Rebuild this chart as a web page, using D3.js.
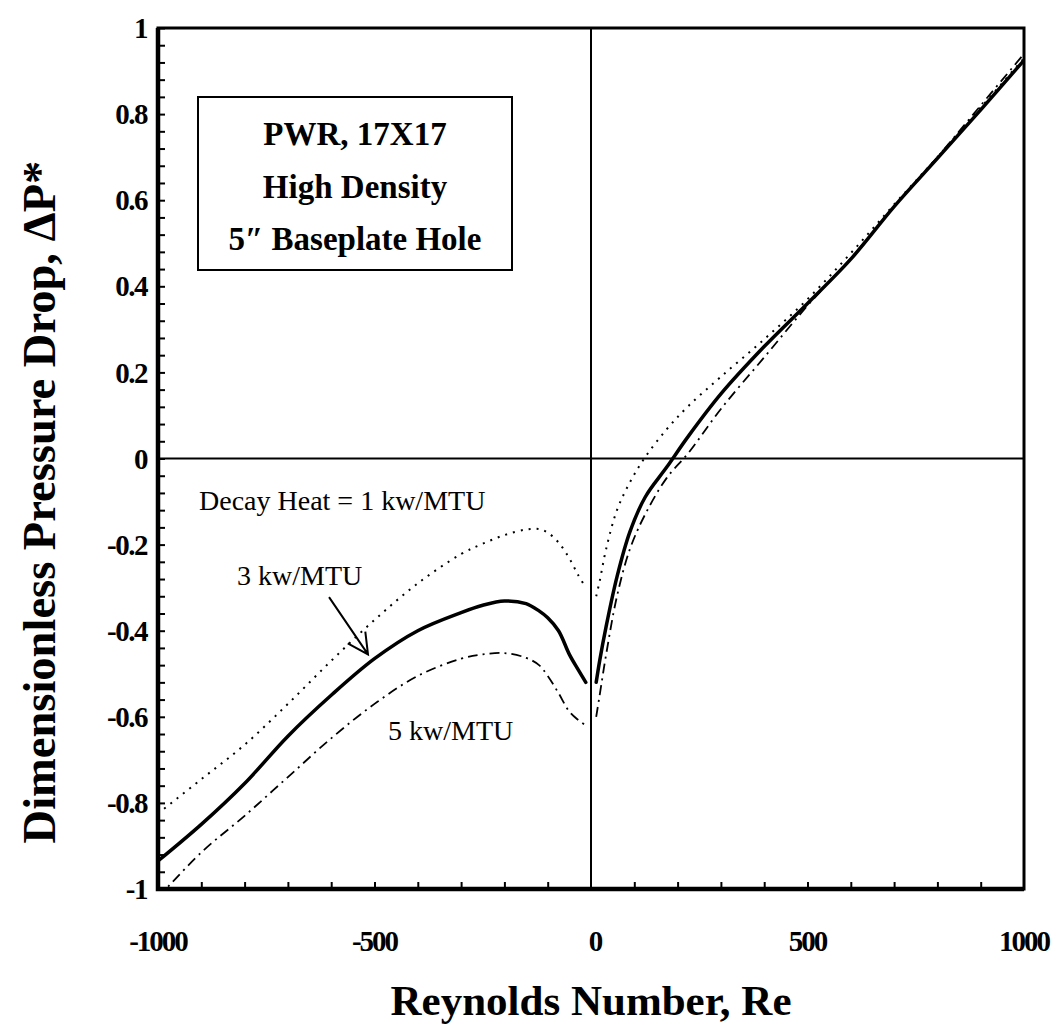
<!DOCTYPE html>
<html>
<head>
<meta charset="utf-8">
<script src="https://cdn.jsdelivr.net/npm/d3@7"></script>
<style>
  body { margin: 0; background: #fff; }
  svg { display: block; }
  text { font-family: "Liberation Serif", "Times New Roman", serif; fill: #000; }
</style>
</head>
<body>
<div class="content"></div>
<script>

// Reynolds number grid, negative branch (reverse flow) and positive branch
var reNeg = [-1000, -900, -800, -700, -600, -500, -400, -300, -250, -200, -150, -120, -100, -75, -50, -30, -12];
var rePos = [12, 20, 35, 60, 90, 125, 175, 225, 300, 400, 500, 600, 700, 800, 900, 1000];

// Decay heat = 1 kw/MTU (dotted)
var dp1Neg = [-0.825, -0.745, -0.665, -0.57, -0.47, -0.375, -0.29, -0.222, -0.198, -0.178, -0.165, -0.164, -0.172, -0.195, -0.232, -0.27, -0.30];
var dp1Pos = [-0.32, -0.285, -0.21, -0.12, -0.055, 0.003, 0.068, 0.122, 0.19, 0.277, 0.37, 0.477, 0.59, 0.70, 0.815, 0.93];

// Decay heat = 3 kw/MTU (solid)
var dp3Neg = [-0.935, -0.85, -0.755, -0.645, -0.55, -0.465, -0.40, -0.358, -0.341, -0.331, -0.337, -0.354, -0.37, -0.40, -0.455, -0.49, -0.52];
var dp3Pos = [-0.52, -0.47, -0.39, -0.275, -0.17, -0.09, -0.02, 0.052, 0.15, 0.26, 0.36, 0.463, 0.585, 0.697, 0.81, 0.925];

// Decay heat = 5 kw/MTU (dash-dot)
var dp5Neg = [-1.02, -0.915, -0.83, -0.74, -0.65, -0.57, -0.505, -0.465, -0.455, -0.452, -0.463, -0.48, -0.505, -0.545, -0.588, -0.607, -0.62];
var dp5Pos = [-0.60, -0.55, -0.455, -0.32, -0.21, -0.13, -0.045, 0.013, 0.115, 0.235, 0.355, 0.465, 0.585, 0.70, 0.82, 0.94];

var xTicks = [-1000, -500, 0, 500, 1000];
var yTicks = [1, 0.8, 0.6, 0.4, 0.2, 0, -0.2, -0.4, -0.6, -0.8, -1];
var boxLines = ["PWR, 17X17", "High Density", "5\u2033 Baseplate Hole"];

var width = 1056, height = 1034;
var margin = {top: 28, right: 32, bottom: 145, left: 158};

var svg = d3.select(".content").append("svg")
   .attr("width", width)
   .attr("height", height);

var x = d3.scaleLinear().domain([-1000, 1000]).range([margin.left, width - margin.right]);
var y = d3.scaleLinear().domain([-1, 1]).range([height - margin.bottom, margin.top]);

svg.append("clipPath").attr("id", "plot-clip")
   .append("rect")
   .attr("x", x(-1000)).attr("y", y(1))
   .attr("width", x(1000) - x(-1000)).attr("height", y(-1) - y(1));

// zero lines
svg.append("line")
   .attr("x1", x(-1000)).attr("x2", x(1000))
   .attr("y1", y(0)).attr("y2", y(0))
   .attr("stroke", "#000").attr("stroke-width", 2);
svg.append("line")
   .attr("x1", x(0)).attr("x2", x(0))
   .attr("y1", y(1)).attr("y2", y(-1))
   .attr("stroke", "#000").attr("stroke-width", 2);

// minor ticks, inward
var yAxis = d3.axisRight(y)
   .tickValues(d3.range(-1, 1.0001, 0.04))
   .tickSize(7).tickFormat("");
svg.append("g")
   .attr("transform", "translate(" + x(-1000) + ",0)")
   .call(yAxis)
   .call(g => g.select(".domain").remove())
   .selectAll("line").attr("stroke-width", 2);

var xAxis = d3.axisTop(x)
   .tickValues(d3.range(-900, 1000, 100).filter(v => v !== 0))
   .tickSize(7).tickFormat("");
svg.append("g")
   .attr("transform", "translate(0," + y(-1) + ")")
   .call(xAxis)
   .call(g => g.select(".domain").remove())
   .selectAll("line").attr("stroke-width", 2);

// frame
svg.append("rect")
   .attr("x", x(-1000)).attr("y", y(1))
   .attr("width", x(1000) - x(-1000)).attr("height", y(-1) - y(1))
   .attr("fill", "none").attr("stroke", "#000").attr("stroke-width", 3);
svg.append("path")
   .attr("d", "M" + x(-1000) + "," + y(1) + "V" + y(-1) + "H" + x(1000))
   .attr("fill", "none").attr("stroke", "#000").attr("stroke-width", 4.5);

// tick labels
svg.selectAll(".ylab")
   .data(yTicks)
   .enter().append("text")
   .attr("class", "ylab")
   .attr("x", x(-1000) - 11)
   .attr("y", d => y(d))
   .attr("dy", "0.35em")
   .attr("text-anchor", "end")
   .attr("font-size", 29)
   .attr("font-weight", "bold")
   .attr("letter-spacing", -1.5)
   .text(d => String(d));

svg.selectAll(".xlab")
   .data(xTicks)
   .enter().append("text")
   .attr("class", "xlab")
   .attr("x", d => x(d) + (d === 0 ? 4 : 0))
   .attr("y", y(-1) + 62)
   .attr("text-anchor", "middle")
   .attr("font-size", 29)
   .attr("font-weight", "bold")
   .attr("letter-spacing", -2)
   .text(d => String(d));

// axis titles
svg.append("text")
   .attr("x", x(0))
   .attr("y", 1015)
   .attr("text-anchor", "middle")
   .attr("font-size", 43)
   .attr("font-weight", "bold")
   .text("Reynolds Number, Re");

svg.append("text")
   .attr("transform", "translate(55,502) rotate(-90)")
   .attr("text-anchor", "middle")
   .attr("font-size", 46.5)
   .attr("font-weight", "bold")
   .text("Dimensionless Pressure Drop, \u0394P*");

// curves
var line = d3.line()
   .x(d => x(d[0]))
   .y(d => y(d[1]))
   .curve(d3.curveCatmullRom.alpha(0.5));

var series = [
   {neg: dp1Neg, pos: dp1Pos, width: 2, dash: "2,6"},
   {neg: dp5Neg, pos: dp5Pos, width: 1.8, dash: "10,5,2,5"},
   {neg: dp3Neg, pos: dp3Pos, width: 3.5, dash: null}
];

var curves = svg.append("g").attr("clip-path", "url(#plot-clip)");
series.forEach(s => {
   [[reNeg, s.neg], [rePos, s.pos]].forEach(branch => {
      curves.append("path")
         .attr("d", line(d3.zip(branch[0], branch[1])))
         .attr("fill", "none")
         .attr("stroke", "#000")
         .attr("stroke-width", s.width)
         .attr("stroke-dasharray", s.dash)
         .attr("stroke-linecap", s.dash ? "butt" : "round");
   });
});

// info box
var box = svg.append("g");
box.append("rect")
   .attr("x", 198).attr("y", 97)
   .attr("width", 314).attr("height", 173)
   .attr("fill", "#fff").attr("stroke", "#000").attr("stroke-width", 2);
box.selectAll("text")
   .data(boxLines)
   .enter().append("text")
   .attr("x", 198 + 157)
   .attr("y", (d, i) => 145 + i * 52.5)
   .attr("text-anchor", "middle")
   .attr("font-size", 33)
   .attr("font-weight", "bold")
   .text(d => d);

// annotations
svg.append("text")
   .attr("x", x(-1000) + 41).attr("y", y(-0.12))
   .attr("font-size", 28)
   .text("Decay Heat = 1 kw/MTU");
svg.append("text")
   .attr("x", x(-1000) + 79).attr("y", y(-0.295))
   .attr("font-size", 28)
   .text("3 kw/MTU");
svg.append("text")
   .attr("x", x(-1000) + 230).attr("y", y(-0.655))
   .attr("font-size", 28)
   .text("5 kw/MTU");

// arrow toward the 3 kw/MTU curve
var tail = [x(-605), y(-0.322)], tip = [x(-515), y(-0.455)];
var ang = Math.atan2(tail[1] - tip[1], tail[0] - tip[0]);
var headLen = 23, spread = 0.48;
svg.append("path")
   .attr("d", "M" + tail + "L" + tip +
      "M" + [tip[0] + headLen * Math.cos(ang - spread), tip[1] + headLen * Math.sin(ang - spread)] +
      "L" + tip +
      "L" + [tip[0] + headLen * Math.cos(ang + spread), tip[1] + headLen * Math.sin(ang + spread)])
   .attr("fill", "none").attr("stroke", "#000").attr("stroke-width", 2);

</script>
</body>
</html>
